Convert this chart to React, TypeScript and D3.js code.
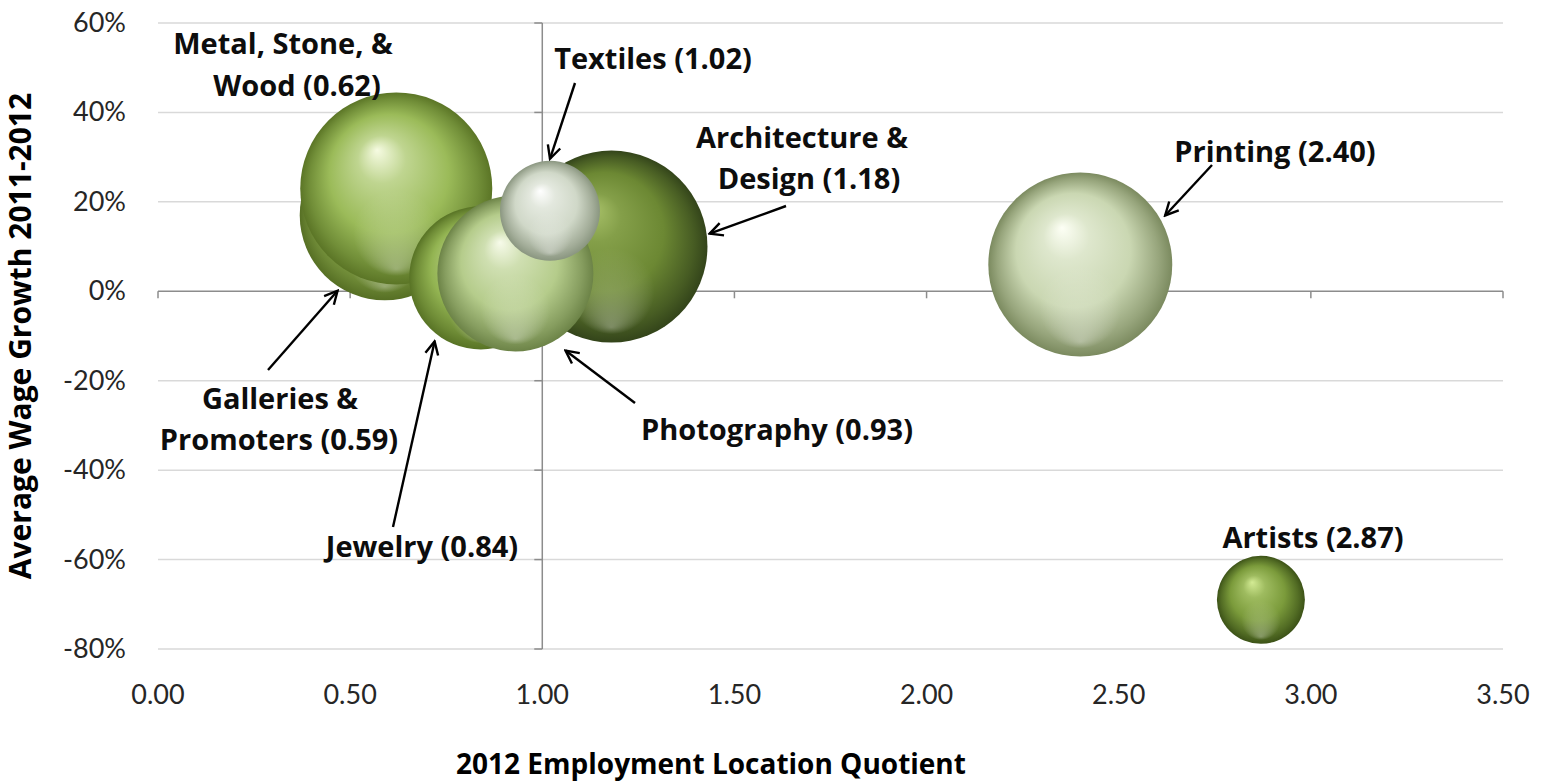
import * as d3 from 'd3';
import { useEffect } from 'react';

// bubble data
const categories = [
  'Galleries & Promoters',
  'Metal, Stone, & Wood',
  'Jewelry',
  'Architecture & Design',
  'Photography',
  'Textiles',
  'Printing',
  'Artists',
];
const locationQuotient = [0.59, 0.62, 0.84, 1.18, 0.93, 1.02, 2.4, 2.87];
const wageGrowth = [0.17, 0.23, 0.03, 0.1, 0.04, 0.18, 0.06, -0.69];
const bubbleSize = [784, 1000, 556, 1000, 660, 271, 918, 210];

const xTicks = [0, 0.5, 1, 1.5, 2, 2.5, 3, 3.5];
const yTicks = [-0.8, -0.6, -0.4, -0.2, 0, 0.2, 0.4, 0.6];

// [highlight, base, edge]
const palette: [string, string, string][] = [
  ['#e4f0c4', '#93b253', '#566f24'],
  ['#f6fbe2', '#9bbb59', '#5b7526'],
  ['#e2efc0', '#93b452', '#587325'],
  ['#a9c26a', '#6c8833', '#33441a'],
  ['#f7fbea', '#b5cc8b', '#6c8347'],
  ['#ffffff', '#d0d8c8', '#8a9680'],
  ['#fdfff5', '#cad7b2', '#7b8a5f'],
  ['#d3eb94', '#7b9b3b', '#3c5217'],
];

type Note = { lines: string[]; x: number[]; y: number[]; tail?: [number, number]; angle?: number; gap?: number };
const notes: Note[] = [
  { lines: ['Galleries &', 'Promoters (0.59)'], x: [280, 279], y: [409, 450], tail: [268, 370], angle: 122, gap: 4 },
  { lines: ['Metal, Stone, &', 'Wood (0.62)'], x: [283, 297], y: [54, 96] },
  { lines: ['Jewelry (0.84)'], x: [422], y: [557], tail: [393, 527], angle: 126, gap: 7 },
  { lines: ['Architecture &', 'Design (1.18)'], x: [802, 809], y: [148, 189], tail: [786, 206], angle: -7.5, gap: 3 },
  { lines: ['Photography (0.93)'], x: [777], y: [440], tail: [635, 403], angle: 57, gap: 14 },
  { lines: ['Textiles (1.02)'], x: [653], y: [69], tail: [575, 83], angle: -90, gap: 2 },
  { lines: ['Printing (2.40)'], x: [1275], y: [162], tail: [1212, 165], angle: -30, gap: 6 },
  { lines: ['Artists (2.87)'], x: [1313], y: [548] },
];

const W = 1542;
const H = 784;
const boldFont = '"Open Sans", Lato, sans-serif';
const tickFont = 'Lato, "Open Sans", sans-serif';

const pct = (v: number) => `${Math.round(v * 100)}%`;

export default function App() {
  useEffect(() => {
    document.body.style.margin = '0';
  }, []);

  const x = d3.scaleLinear().domain([0, 3.5]).range([158, 1503]);
  const y = d3.scaleLinear().domain([-0.8, 0.6]).range([649, 23]);
  const r = d3.scaleSqrt().domain([0, d3.max(bubbleSize) as number]).range([0, 96]);

  const pts = categories.map((c, i) => ({
    name: c,
    cx: x(locationQuotient[i]),
    cy: y(wageGrowth[i]),
    r: r(bubbleSize[i]),
    i,
  }));

  return (
    <svg width={W} height={H} style={{ display: 'block', background: '#fff' }}>
      <defs>
        {palette.map((p, i) => (
          <radialGradient key={i} id={`ball${i}`} cx="50%" cy="50%" r="50%" fx="40%" fy="30%">
            <stop offset="0%" stopColor={p[0]} />
            <stop offset="25%" stopColor={d3.interpolateRgb(p[0], p[1])(0.6)} />
            <stop offset="62%" stopColor={p[1]} />
            <stop offset="88%" stopColor={d3.interpolateRgb(p[1], p[2])(0.65)} />
            <stop offset="100%" stopColor={p[2]} />
          </radialGradient>
        ))}
        <radialGradient id="rim" cx="50%" cy="50%" r="50%" fx="50%" fy="92%">
          <stop offset="0%" stopColor="#ffffff" stopOpacity={0.3} />
          <stop offset="45%" stopColor="#ffffff" stopOpacity={0} />
        </radialGradient>
        <marker id="arrow" viewBox="0 0 16 16" refX="14" refY="8" markerWidth="16" markerHeight="16"
          markerUnits="userSpaceOnUse" orient="auto">
          <path d="M1,1.5 L14,8 L1,14.5" fill="none" stroke="#000" strokeWidth={2.4} />
        </marker>
      </defs>

      {/* gridlines */}
      {yTicks.filter(t => t !== 0).map(t => (
        <line key={t} x1={x(0)} x2={x(3.5)} y1={y(t)} y2={y(t)} stroke="#d9d9d9" strokeWidth={1.5} />
      ))}

      {/* horizontal axis at 0% */}
      <line x1={x(0)} x2={x(3.5)} y1={y(0)} y2={y(0)} stroke="#8c8c8c" strokeWidth={1.5} />
      {xTicks.map(t => (
        <line key={t} x1={x(t)} x2={x(t)} y1={y(0)} y2={y(0) + 7} stroke="#8c8c8c" strokeWidth={1.5} />
      ))}
      {/* vertical axis at 1.00 */}
      <line x1={x(1)} x2={x(1)} y1={y(0.6)} y2={y(-0.8)} stroke="#8c8c8c" strokeWidth={1.5} />
      {yTicks.map(t => (
        <line key={t} x1={x(1) - 8} x2={x(1)} y1={y(t)} y2={y(t)} stroke="#8c8c8c" strokeWidth={1.5} />
      ))}

      {/* tick labels */}
      {xTicks.map(t => (
        <text key={t} x={x(t)} y={704} textAnchor="middle" fontFamily={tickFont} fontSize={27} fill="#262626">
          {t.toFixed(2)}
        </text>
      ))}
      {yTicks.map(t => (
        <text key={t} x={126} y={y(t) + 9} textAnchor="end" fontFamily={tickFont} fontSize={27} fill="#262626">
          {pct(t)}
        </text>
      ))}

      {/* axis titles */}
      <text x={711} y={774} textAnchor="middle" fontFamily={boldFont} fontWeight="bold" fontSize={28} fill="#000">
        2012 Employment Location Quotient
      </text>
      <text transform={`translate(31,${(y(0.6) + y(-0.8)) / 2}) rotate(-90)`} textAnchor="middle"
        fontFamily={boldFont} fontWeight="bold" fontSize={30} fill="#000">
        Average Wage Growth 2011-2012
      </text>

      {/* bubbles */}
      {pts.map(p => (
        <g key={p.name}>
          <circle cx={p.cx} cy={p.cy} r={p.r} fill={`url(#ball${p.i})`} />
          <circle cx={p.cx} cy={p.cy} r={p.r} fill="url(#rim)" />
        </g>
      ))}

      {/* labels and arrows */}
      {notes.map((n, i) => {
        const p = pts[i];
        let arrow = null;
        if (n.tail && n.angle !== undefined) {
          const a = (n.angle * Math.PI) / 180;
          const d = p.r + (n.gap ?? 0);
          const tx = p.cx + d * Math.cos(a);
          const ty = p.cy + d * Math.sin(a);
          arrow = (
            <line x1={n.tail[0]} y1={n.tail[1]} x2={tx} y2={ty} stroke="#000" strokeWidth={2.4} markerEnd="url(#arrow)" />
          );
        }
        return (
          <g key={i}>
            {arrow}
            {n.lines.map((l, j) => (
              <text key={j} x={n.x[j]} y={n.y[j]} textAnchor="middle" fontFamily={boldFont} fontWeight="bold"
                fontSize={29} fill="#0d0d0d">
                {l}
              </text>
            ))}
          </g>
        );
      })}
    </svg>
  );
}
